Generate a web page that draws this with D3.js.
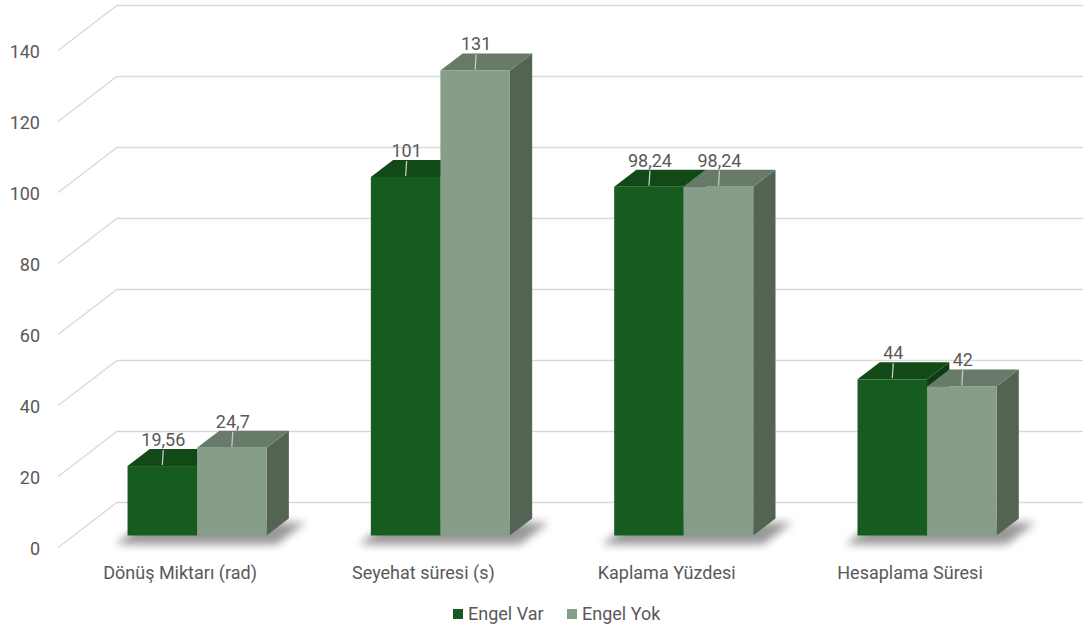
<!DOCTYPE html>
<html>
<head>
<meta charset="utf-8">
<script src="https://cdn.jsdelivr.net/npm/d3@7"></script>
<style>
  body { margin: 0; background: #fff; }
  text { font-family: Roboto, "Open Sans", sans-serif; fill: #595959; }
</style>
</head>
<body>
<div id="chart"></div>
<script>
const width = 1083;
const height = 627;

// data
const categories = ["Dönüş Miktarı (rad)", "Seyehat süresi (s)", "Kaplama Yüzdesi", "Hesaplama Süresi"];
const series = ["Engel Var", "Engel Yok"];
const engelVar = [19.56, 101, 98.24, 44];
const engelYok = [24.7, 131, 98.24, 42];
const valueLabelsVar = ["19,56", "101", "98,24", "44"];
const valueLabelsYok = ["24,7", "131", "98,24", "42"];
const yTicks = [0, 20, 40, 60, 80, 100, 120, 140];

// 3d look: depth runs up and to the right
const slope = 1.31;
const wallDepth = 45;
const barFront = 12;
const barBack = 29;
const fontSize = "18px";

const colors = {
    "Engel Var": { front: "#175c1f", top: "#114a16", side: "#0e3d12" },
    "Engel Yok": { front: "#869d88", top: "#687b69", side: "#536452" }
};

let svg = d3.select("#chart").append("svg")
    .attr("width", width)
    .attr("height", height);

let defs = svg.append("defs");
defs.append("filter")
    .attr("id", "shadow")
    .attr("x", "-20%").attr("y", "-50%")
    .attr("width", "140%").attr("height", "200%")
    .append("feGaussianBlur")
    .attr("stdDeviation", 4);

let y = d3.scaleLinear()
    .domain([0, 140])
    .range([547.5, 50.5]);

let x0 = d3.scaleBand()
    .domain(categories)
    .range([75.4, 1048.7]);

let x1 = d3.scaleBand()
    .domain(series)
    .range([0, x0.bandwidth()])
    .paddingOuter(0.75);

// gridlines: left wall diagonal + back wall horizontal
let grid = svg.append("g").attr("class", "grid");
grid.selectAll("path")
    .data(yTicks)
    .enter()
    .append("path")
    .attr("d", d => {
        let yf = y(d);
        return `M58,${yf} L${58 + wallDepth * slope},${yf - wallDepth} L${width},${yf - wallDepth}`;
    })
    .attr("fill", "none")
    .attr("stroke", "#d9d9d9")
    .attr("stroke-width", 1.3);

// y axis labels
svg.append("g")
    .selectAll("text")
    .data(yTicks)
    .enter()
    .append("text")
    .attr("x", 40)
    .attr("y", d => y(d) + 1)
    .attr("dy", "0.35em")
    .attr("text-anchor", "end")
    .style("font-size", fontSize)
    .text(d => d);

let rows = categories.map((c, i) => ({
    cat: c,
    bars: [
        { s: series[0], v: engelVar[i], lab: valueLabelsVar[i] },
        { s: series[1], v: engelYok[i], lab: valueLabelsYok[i] }
    ]
}));

// shadows on the floor
svg.append("g")
    .selectAll("path")
    .data(rows)
    .enter()
    .append("path")
    .attr("d", d => {
        let xl = x0(d.cat) + x1(series[0]) - 16;
        let xr = x0(d.cat) + x1(series[1]) + x1.bandwidth() + 6;
        let t0 = barFront - 9, t1 = barBack - 4;
        let yb = y(0);
        return `M${xl + t0 * slope},${yb - t0} L${xr + t0 * slope},${yb - t0}` +
            ` L${xr + t1 * slope},${yb - t1} L${xl + t1 * slope},${yb - t1}Z`;
    })
    .attr("fill", "#000")
    .attr("opacity", 0.4)
    .attr("filter", "url(#shadow)");

let groups = svg.append("g")
    .selectAll("g")
    .data(rows)
    .enter()
    .append("g")
    .attr("transform", d => `translate(${x0(d.cat)},0)`);

let bars = groups.selectAll("g.bar")
    .data(d => d.bars)
    .enter()
    .append("g")
    .attr("class", "bar");

const dx = (barBack - barFront) * slope;
const dy = barBack - barFront;
const w = x1.bandwidth();

// right side
bars.append("path")
    .attr("d", d => {
        let xr = x1(d.s) + w;
        let yt = y(d.v) - barFront, yb = y(0) - barFront;
        return `M${xr},${yt} L${xr + dx},${yt - dy} L${xr + dx},${yb - dy} L${xr},${yb}Z`;
    })
    .attr("fill", d => colors[d.s].side);

// top
bars.append("path")
    .attr("d", d => {
        let xl = x1(d.s), xr = xl + w;
        let yt = y(d.v) - barFront;
        return `M${xl},${yt} L${xr},${yt} L${xr + dx},${yt - dy} L${xl + dx},${yt - dy}Z`;
    })
    .attr("fill", d => colors[d.s].top);

// front
bars.append("rect")
    .attr("x", d => x1(d.s))
    .attr("y", d => y(d.v) - barFront)
    .attr("width", w)
    .attr("height", d => y(0) - y(d.v))
    .attr("fill", d => colors[d.s].front);

// leader lines + value labels
bars.append("line")
    .attr("x1", d => x1(d.s) + w / 2)
    .attr("x2", d => x1(d.s) + w / 2 + 1)
    .attr("y1", d => y(d.v) - barFront - 1)
    .attr("y2", d => y(d.v) - barFront - 16)
    .attr("stroke", "#c8c8c8")
    .attr("stroke-width", 1.3);

bars.append("text")
    .attr("x", d => x1(d.s) + w / 2 + 1)
    .attr("y", d => y(d.v) - barFront - 20)
    .attr("text-anchor", "middle")
    .style("font-size", fontSize)
    .text(d => d.lab);

// category labels
svg.append("g")
    .selectAll("text")
    .data(categories)
    .enter()
    .append("text")
    .attr("x", d => x0(d) + x0.bandwidth() / 2 - 17)
    .attr("y", 573)
    .attr("dy", "0.35em")
    .attr("text-anchor", "middle")
    .style("font-size", fontSize)
    .text(d => d);

// legend
let legend = svg.append("g")
    .selectAll("g")
    .data(series)
    .enter()
    .append("g")
    .attr("transform", (d, i) => `translate(${453 + i * 114},0)`);

legend.append("rect")
    .attr("x", 0)
    .attr("y", 609)
    .attr("width", 10)
    .attr("height", 10)
    .attr("fill", d => colors[d].front);

legend.append("text")
    .attr("x", 15)
    .attr("y", 614)
    .attr("dy", "0.35em")
    .style("font-size", fontSize)
    .text(d => d);
</script>
</body>
</html>
